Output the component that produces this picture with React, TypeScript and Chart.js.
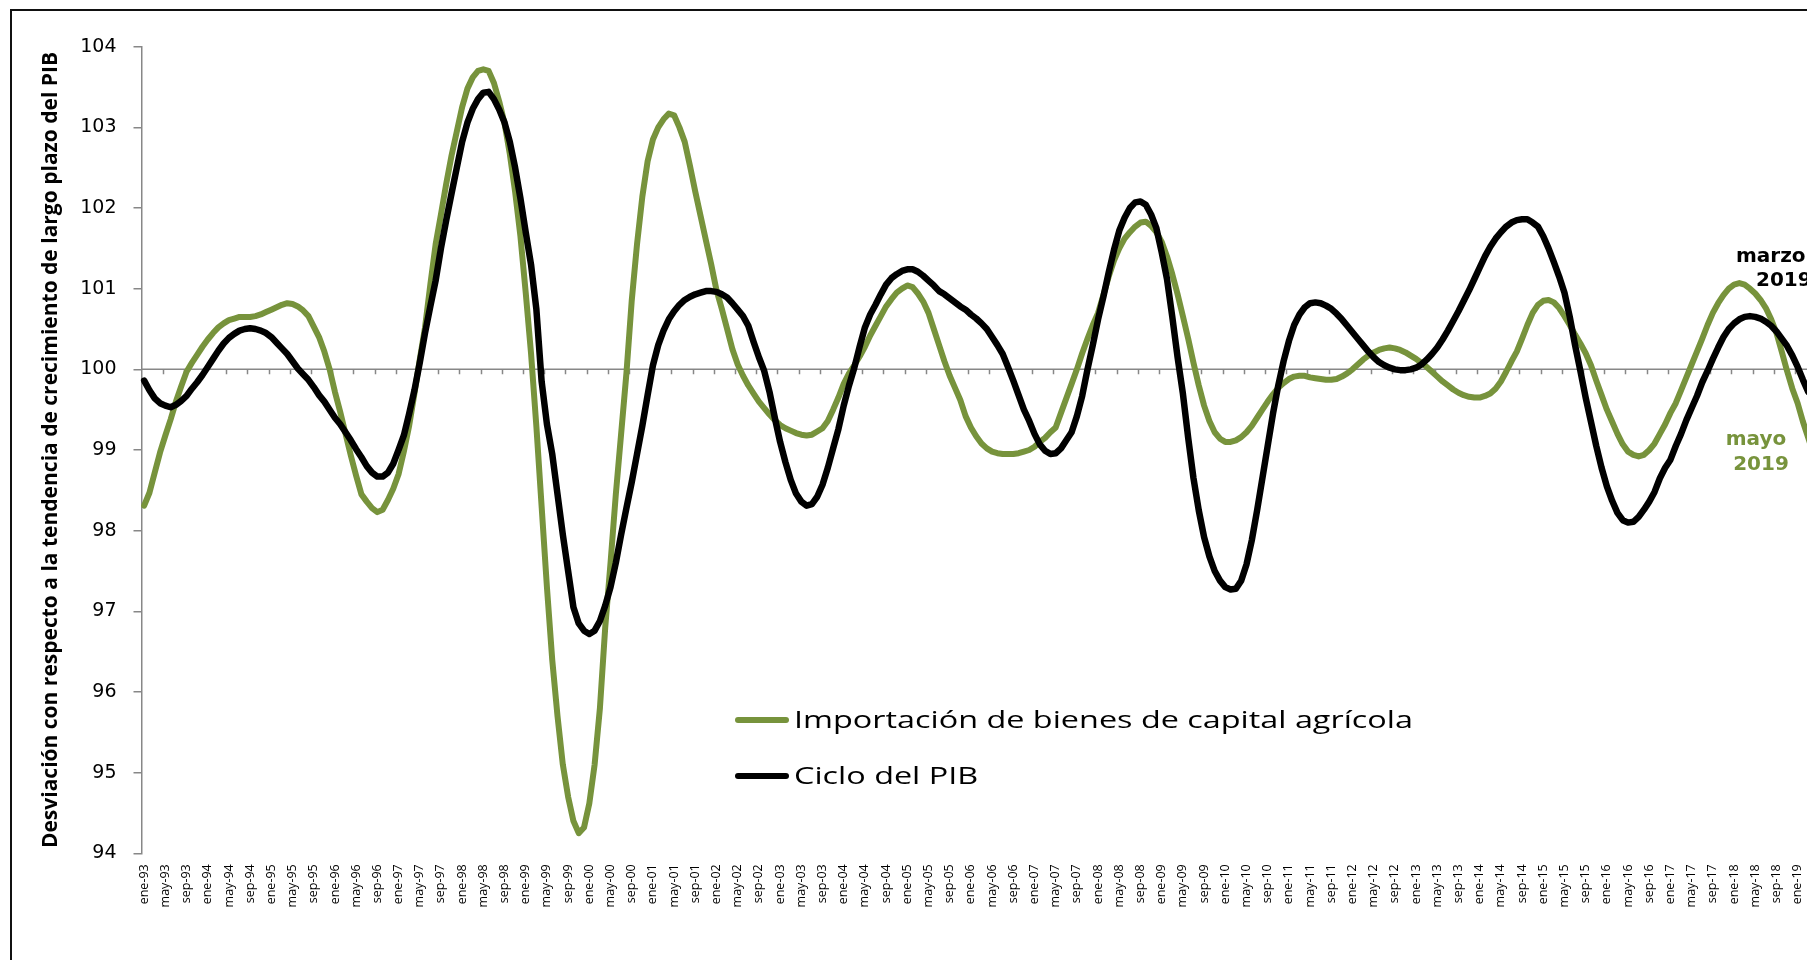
import React, { useEffect, useRef } from 'react';
import { Chart, registerables } from 'chart.js';

Chart.register(...registerables);

// ---------- data ----------
const MONTHS = ['ene', 'feb', 'mar', 'abr', 'may', 'jun', 'jul', 'ago', 'sep', 'oct', 'nov', 'dic'];
const YEARS = ['93', '94', '95', '96', '97', '98', '99', '00', '01', '02', '03', '04', '05', '06', '07', '08', '09', '10', '11', '12', '13', '14', '15', '16', '17', '18', '19'];
const LAST_YEAR_MONTHS = 5; // ene-19 .. may-19

const categories: string[] = [];
YEARS.forEach((y, yi) => {
  MONTHS.forEach((m, mi) => {
    if (yi < YEARS.length - 1 || mi < LAST_YEAR_MONTHS) categories.push(`${m}-${y}`);
  });
});

const SERIES_NAMES = ['Importación de bienes de capital agrícola', 'Ciclo del PIB'];
const END_LABEL_GREEN = ['mayo', '2019'];
const END_LABEL_BLACK = ['marzo', '2019'];
const Y_MIN = 94;
const Y_MAX = 104;
const Y_STEP = 1;
const LABEL_EVERY = 4;

// Importación de bienes de capital agrícola (ene-93 .. may-19)
const importacion = [
  98.31, 98.47, 98.72, 98.97, 99.18, 99.38, 99.6, 99.79, 99.97, 100.08, 100.18, 100.28,
  100.37, 100.45, 100.52, 100.57, 100.61, 100.63, 100.65, 100.65, 100.65, 100.66, 100.68, 100.71,
  100.74, 100.77, 100.8, 100.82, 100.81, 100.78, 100.73, 100.66, 100.53, 100.4, 100.22, 100.0,
  99.72, 99.47, 99.2, 98.93, 98.68, 98.45, 98.36, 98.28, 98.23, 98.26, 98.38, 98.52,
  98.7, 98.98, 99.3, 99.7, 100.12, 100.52, 101.05, 101.55, 101.92, 102.3, 102.65, 102.95,
  103.25, 103.48, 103.62, 103.7, 103.72, 103.7, 103.55, 103.32, 103.05, 102.67, 102.2, 101.65,
  100.95, 100.2, 99.3, 98.3, 97.3, 96.4, 95.7, 95.1, 94.7, 94.4, 94.25, 94.32,
  94.62, 95.1, 95.8, 96.8, 97.6, 98.45, 99.2, 99.95, 100.85, 101.55, 102.14, 102.58,
  102.85, 103.0, 103.1, 103.17, 103.15, 103.0, 102.82, 102.52, 102.2, 101.9, 101.6, 101.3,
  100.98, 100.75, 100.5, 100.25, 100.06, 99.92, 99.8, 99.7, 99.6, 99.52, 99.44, 99.37,
  99.31, 99.27, 99.24, 99.21, 99.19, 99.18, 99.19, 99.23, 99.27, 99.36, 99.5, 99.65,
  99.82, 99.95, 100.05, 100.16, 100.28, 100.42, 100.54, 100.66, 100.78, 100.87, 100.95, 101.0,
  101.04, 101.02, 100.94, 100.84, 100.7, 100.5, 100.3, 100.1, 99.92, 99.77, 99.62, 99.42,
  99.28, 99.17, 99.08, 99.02, 98.98, 98.96, 98.95, 98.95, 98.95, 98.96, 98.98, 99.0,
  99.04, 99.1, 99.15, 99.22, 99.28, 99.46, 99.64, 99.82, 100.0, 100.2, 100.38, 100.55,
  100.7, 100.92, 101.15, 101.35, 101.5, 101.62, 101.7, 101.77, 101.82, 101.83, 101.78, 101.7,
  101.58, 101.4, 101.18, 100.93, 100.66, 100.38, 100.08, 99.8, 99.55, 99.36, 99.22, 99.14,
  99.1, 99.1, 99.12, 99.16, 99.22, 99.3, 99.4, 99.5, 99.6, 99.69, 99.77, 99.83,
  99.88, 99.91, 99.92, 99.92, 99.9, 99.89, 99.88, 99.87, 99.87, 99.88, 99.91, 99.95,
  100.0, 100.06, 100.12, 100.17, 100.21, 100.24, 100.26, 100.27, 100.26, 100.24, 100.21, 100.17,
  100.13, 100.08, 100.03, 99.97, 99.91, 99.85, 99.8, 99.75, 99.71, 99.68, 99.66, 99.65,
  99.65, 99.67, 99.7, 99.76, 99.85, 99.97, 100.1, 100.22, 100.38, 100.55, 100.7, 100.8,
  100.85, 100.86, 100.83, 100.76, 100.66, 100.55, 100.43, 100.32, 100.2, 100.05, 99.86, 99.68,
  99.5, 99.35, 99.2, 99.07, 98.98, 98.94, 98.92, 98.94, 99.0, 99.08, 99.2, 99.32,
  99.46, 99.58, 99.74, 99.9, 100.06, 100.22, 100.38, 100.55, 100.7, 100.82, 100.92, 101.0,
  101.05, 101.07, 101.05, 101.0, 100.94, 100.86, 100.76, 100.62, 100.45, 100.22, 99.98, 99.76,
  99.58, 99.35, 99.15, 98.95, 98.75,
];

// Ciclo del PIB (ene-93 .. mar-19)
const cicloPIB = [
  99.86, 99.74, 99.64, 99.58, 99.55, 99.53, 99.56, 99.61, 99.67, 99.76, 99.84, 99.93,
  100.03, 100.13, 100.23, 100.32, 100.39, 100.44, 100.48, 100.5, 100.51, 100.5, 100.48, 100.45,
  100.4, 100.33, 100.26, 100.19, 100.1, 100.01, 99.94, 99.87, 99.78, 99.68, 99.6, 99.5,
  99.4, 99.32, 99.22, 99.12, 99.01, 98.91, 98.8, 98.72, 98.67, 98.67, 98.72, 98.83,
  99.0, 99.18, 99.45, 99.74, 100.08, 100.45, 100.78, 101.1, 101.5, 101.85, 102.18, 102.5,
  102.82, 103.06, 103.23, 103.35, 103.43, 103.44, 103.35, 103.22, 103.06, 102.82, 102.5, 102.12,
  101.7, 101.3, 100.75, 99.85, 99.32, 98.95, 98.45, 97.95, 97.5, 97.05, 96.85, 96.76,
  96.72, 96.76, 96.88, 97.07, 97.3, 97.6, 97.95, 98.28, 98.6, 98.95, 99.3, 99.68,
  100.05, 100.3, 100.48, 100.62, 100.72, 100.8, 100.86, 100.9, 100.93, 100.95, 100.97, 100.97,
  100.96, 100.93, 100.89, 100.82, 100.74, 100.66, 100.54, 100.34, 100.15, 99.98, 99.72, 99.4,
  99.1, 98.85, 98.63, 98.46, 98.36, 98.31, 98.33, 98.42, 98.57, 98.78, 99.02, 99.26,
  99.55, 99.8, 100.02, 100.28, 100.52, 100.68, 100.8, 100.93, 101.05, 101.13, 101.18, 101.22,
  101.24, 101.24, 101.21, 101.16, 101.1, 101.04, 100.97, 100.93, 100.88, 100.83, 100.78, 100.74,
  100.68, 100.63, 100.57, 100.5, 100.4, 100.3, 100.19, 100.03, 99.86, 99.68, 99.5, 99.36,
  99.2, 99.07, 98.99, 98.95, 98.96, 99.02, 99.12, 99.22, 99.42, 99.67, 100.0, 100.3,
  100.62, 100.9, 101.2, 101.48, 101.72, 101.88, 102.0, 102.07, 102.08, 102.04, 101.92, 101.75,
  101.45, 101.12, 100.65, 100.15, 99.7, 99.15, 98.65, 98.25, 97.92, 97.68, 97.5, 97.38,
  97.3, 97.27, 97.28, 97.38, 97.58, 97.88, 98.25, 98.65, 99.05, 99.45, 99.8, 100.1,
  100.35, 100.55, 100.68, 100.77, 100.82, 100.83, 100.82, 100.79, 100.75, 100.69, 100.62, 100.54,
  100.46, 100.38, 100.3, 100.22, 100.15, 100.09, 100.05, 100.02, 100.0, 99.99, 99.99, 100.0,
  100.02, 100.06, 100.12, 100.19, 100.27, 100.37, 100.48, 100.6, 100.72, 100.85, 100.98, 101.12,
  101.26, 101.4, 101.52, 101.62, 101.7, 101.77, 101.82, 101.85, 101.86, 101.86, 101.82, 101.77,
  101.65, 101.5, 101.33, 101.15, 100.95, 100.65, 100.3, 99.98, 99.65, 99.35, 99.05, 98.78,
  98.55, 98.37, 98.22, 98.13, 98.1, 98.11, 98.17, 98.26, 98.36, 98.48, 98.65, 98.78,
  98.88, 99.05, 99.2, 99.37, 99.52, 99.67, 99.84, 99.98, 100.13, 100.27, 100.4, 100.5,
  100.57, 100.62, 100.65, 100.66, 100.65, 100.63, 100.59, 100.54, 100.47, 100.38, 100.29, 100.17,
  100.03, 99.87, 99.72,
];

// ---------- styles ----------
const GREEN = '#77933c';
const BLACK = '#000000';
const AXIS_GRAY = '#878787';
const CANVAS_W = 1880;
const CANVAS_H = 960;

const overlayPlugin = {
  id: 'overlay',
  beforeDatasetsDraw(chart: any) {
    const { ctx, chartArea, scales } = chart;
    const xs = scales.x;
    const ys = scales.y;
    const y100 = ys.getPixelForValue(100);
    ctx.save();
    ctx.strokeStyle = AXIS_GRAY;
    ctx.lineWidth = 1.5;
    ctx.beginPath();
    ctx.moveTo(chartArea.left, y100);
    ctx.lineTo(chartArea.right, y100);
    ctx.stroke();
    const n = chart.data.labels.length;
    ctx.beginPath();
    for (let k = LABEL_EVERY; k < n; k += LABEL_EVERY) {
      const px = Math.round((xs.getPixelForValue(k - 1) + xs.getPixelForValue(k)) / 2) + 0.5;
      ctx.moveTo(px, y100);
      ctx.lineTo(px, y100 + 5);
    }
    ctx.stroke();
    ctx.restore();
  },
  afterDatasetsDraw(chart: any) {
    const { ctx } = chart;
    const ds = chart.data.datasets;
    ctx.save();
    // legend
    ctx.font = '23px "Open Sans"';
    const refW = ctx.measureText(ds[0].label).width;
    const sx = 619 / refW;
    const rows = [720, 776];
    ds.forEach((d: any, i: number) => {
      const yy = rows[i];
      ctx.strokeStyle = d.borderColor;
      ctx.lineWidth = 6;
      ctx.lineCap = 'round';
      ctx.beginPath();
      ctx.moveTo(738, yy);
      ctx.lineTo(786, yy);
      ctx.stroke();
      ctx.save();
      ctx.translate(794, yy);
      ctx.scale(sx, 1);
      ctx.fillStyle = '#000';
      ctx.textBaseline = 'middle';
      ctx.textAlign = 'left';
      ctx.fillText(d.label, 0, 1);
      ctx.restore();
    });
    // end labels
    ctx.font = 'bold 20px "DejaVu Sans"';
    ctx.textBaseline = 'middle';
    ctx.textAlign = 'left';
    ctx.fillStyle = BLACK;
    ctx.fillText(END_LABEL_BLACK[0], 1736, 257);
    ctx.fillText(END_LABEL_BLACK[1], 1756, 281);
    ctx.fillStyle = GREEN;
    ctx.textAlign = 'center';
    ctx.fillText(END_LABEL_GREEN[0], 1756, 440);
    ctx.fillText(END_LABEL_GREEN[1], 1761, 465);
    ctx.restore();
  },
};

export default function App() {
  const ref = useRef<HTMLCanvasElement | null>(null);

  useEffect(() => {
    if (!ref.current) return;
    const chart = new Chart(ref.current, {
      type: 'line',
      data: {
        labels: categories,
        datasets: [
          {
            label: SERIES_NAMES[0],
            data: importacion,
            borderColor: GREEN,
            backgroundColor: GREEN,
            borderWidth: 6,
            pointRadius: 0,
            tension: 0,
            borderJoinStyle: 'round',
            borderCapStyle: 'round',
            order: 1,
          },
          {
            label: SERIES_NAMES[1],
            data: cicloPIB,
            borderColor: BLACK,
            backgroundColor: BLACK,
            borderWidth: 6.5,
            pointRadius: 0,
            tension: 0,
            borderJoinStyle: 'round',
            borderCapStyle: 'round',
            order: 0,
          },
        ],
      },
      options: {
        responsive: false,
        animation: false,
        devicePixelRatio: 1,
        layout: { padding: { top: 46.7, left: 0, right: CANVAS_W - 1821.5, bottom: 0 } },
        plugins: {
          legend: { display: false },
          tooltip: { enabled: false },
        },
        scales: {
          x: {
            type: 'category',
            offset: true,
            grid: { display: false, drawTicks: false },
            border: { display: false },
            ticks: {
              autoSkip: false,
              minRotation: 90,
              maxRotation: 90,
              padding: 11,
              color: '#000',
              font: { family: '"Open Sans"', size: 12.5 },
              callback: (_v: any, i: number) => (i % LABEL_EVERY === 0 ? categories[i] : ''),
            },
            afterFit: (s: any) => {
              s.height = CANVAS_H - 853.3;
            },
          },
          y: {
            min: Y_MIN,
            max: Y_MAX,
            ticks: {
              stepSize: Y_STEP,
              padding: 17,
              color: '#000',
              font: { family: '"DejaVu Sans"', size: 19 },
            },
            grid: {
              drawOnChartArea: false,
              drawTicks: true,
              tickLength: 8,
              color: AXIS_GRAY,
              lineWidth: 1.5,
            },
            border: { display: true, color: AXIS_GRAY, width: 1.5 },
            title: {
              display: true,
              text: 'Desviación con respecto a la tendencia de crecimiento de largo plazo del PIB',
              color: '#000',
              font: { family: '"Open Sans"', size: 21, weight: 'bold' },
              padding: { top: 38, bottom: 0 },
            },
            afterFit: (s: any) => {
              s.width = 141.5;
            },
          },
        },
      },
      plugins: [overlayPlugin],
    } as any);
    return () => chart.destroy();
  }, []);

  return (
    <div
      style={{
        position: 'fixed',
        left: 0,
        top: 0,
        width: '1807px',
        height: '960px',
        overflow: 'hidden',
        background: '#fff',
      }}
    >
      <div
        style={{
          position: 'absolute',
          left: 10,
          top: 9,
          width: 2000,
          height: 2000,
          border: '2px solid #111',
          boxSizing: 'border-box',
        }}
      />
      <canvas
        ref={ref}
        width={CANVAS_W}
        height={CANVAS_H}
        style={{ position: 'absolute', left: 0, top: 0, width: CANVAS_W + 'px', height: CANVAS_H + 'px' }}
      />
    </div>
  );
}
